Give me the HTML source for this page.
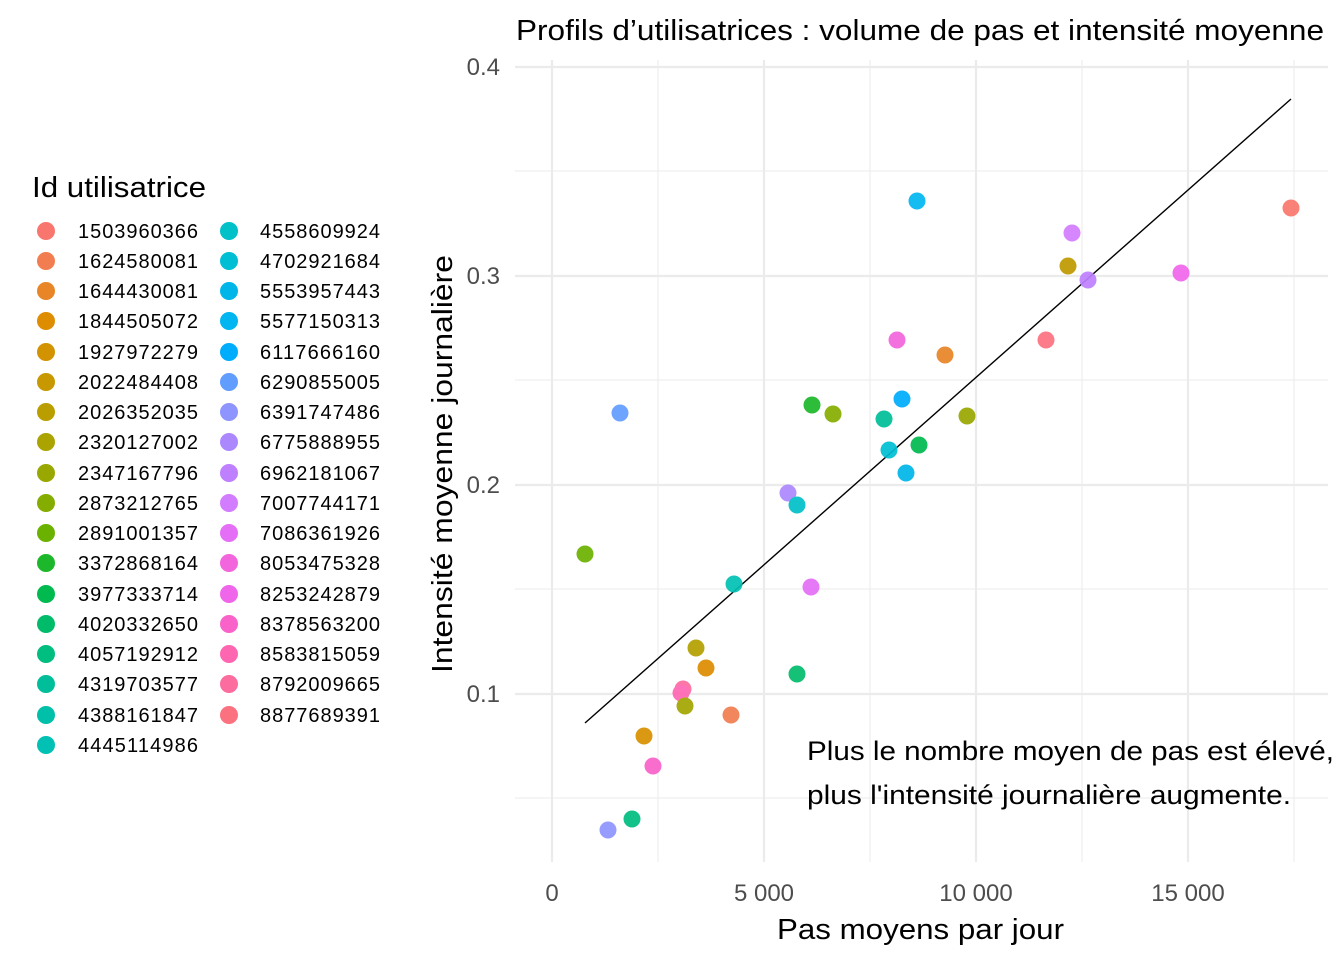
<!DOCTYPE html>
<html><head><meta charset="utf-8"><style>
body{margin:0;background:#fff;}
svg{display:block;font-family:"Liberation Sans",Arial,sans-serif;}
</style></head><body>
<svg width="1344" height="960" xmlns="http://www.w3.org/2000/svg">
<rect width="1344" height="960" fill="#fff"/>
<g stroke="#ebebeb" stroke-width="1">
<line x1="658" y1="60" x2="658" y2="862"/><line x1="870" y1="60" x2="870" y2="862"/><line x1="1082" y1="60" x2="1082" y2="862"/><line x1="1294" y1="60" x2="1294" y2="862"/>
<line x1="515" y1="171" x2="1328" y2="171"/><line x1="515" y1="380" x2="1328" y2="380"/><line x1="515" y1="589" x2="1328" y2="589"/><line x1="515" y1="798" x2="1328" y2="798"/>
</g>
<g stroke="#ebebeb" stroke-width="2.2">
<line x1="552" y1="60" x2="552" y2="862"/><line x1="764" y1="60" x2="764" y2="862"/><line x1="976" y1="60" x2="976" y2="862"/><line x1="1188" y1="60" x2="1188" y2="862"/>
<line x1="515" y1="67" x2="1328" y2="67"/><line x1="515" y1="276" x2="1328" y2="276"/><line x1="515" y1="485" x2="1328" y2="485"/><line x1="515" y1="694" x2="1328" y2="694"/>
</g>
<line x1="585" y1="723" x2="1291" y2="99" stroke="#000" stroke-width="1.4"/>
<g font-size="24" fill="#4d4d4d">
<text x="500" y="75" text-anchor="end">0.4</text>
<text x="500" y="284" text-anchor="end">0.3</text>
<text x="500" y="493" text-anchor="end">0.2</text>
<text x="500" y="702" text-anchor="end">0.1</text>
<text x="552" y="901" text-anchor="middle">0</text>
<text x="764" y="901" text-anchor="middle">5 000</text>
<text x="976" y="901" text-anchor="middle">10 000</text>
<text x="1188" y="901" text-anchor="middle">15 000</text>
</g>
<text x="777" y="939" font-size="29" textLength="287" lengthAdjust="spacingAndGlyphs">Pas moyens par jour</text>
<text transform="translate(452,673) rotate(-90)" font-size="29" textLength="418" lengthAdjust="spacingAndGlyphs">Intensité moyenne journalière</text>
<text x="516" y="40" font-size="29" textLength="808" lengthAdjust="spacingAndGlyphs">Profils d’utilisatrices : volume de pas et intensité moyenne</text>
<text x="807" y="760" font-size="27" textLength="527" lengthAdjust="spacingAndGlyphs">Plus le nombre moyen de pas est élevé,</text>
<text x="807" y="804" font-size="27" textLength="484" lengthAdjust="spacingAndGlyphs">plus l'intensité journalière augmente.</text>
<g opacity="0.92">
<circle cx="1291" cy="208" r="8.5" fill="#F8766D"/>
<circle cx="1181" cy="273" r="8.5" fill="#F066EA"/>
<circle cx="1072" cy="233" r="8.5" fill="#D27CFF"/>
<circle cx="1068" cy="266" r="8.5" fill="#BF9A00"/>
<circle cx="1088" cy="280" r="8.5" fill="#BE80FF"/>
<circle cx="1046" cy="340" r="8.5" fill="#FC717F"/>
<circle cx="945" cy="355" r="8.5" fill="#E88526"/>
<circle cx="967" cy="416" r="8.5" fill="#99A800"/>
<circle cx="917" cy="201" r="8.5" fill="#00B6F1"/>
<circle cx="897" cy="340" r="8.5" fill="#F365DC"/>
<circle cx="902" cy="399" r="8.5" fill="#00ACFC"/>
<circle cx="884" cy="419" r="8.5" fill="#00BE99"/>
<circle cx="889" cy="450" r="8.5" fill="#00BED3"/>
<circle cx="919" cy="445" r="8.5" fill="#00BA50"/>
<circle cx="906" cy="473" r="8.5" fill="#00B6E9"/>
<circle cx="812" cy="405" r="8.5" fill="#1DB72B"/>
<circle cx="833" cy="414" r="8.5" fill="#85AD00"/>
<circle cx="620" cy="413" r="8.5" fill="#619CFF"/>
<circle cx="788" cy="493" r="8.5" fill="#AC88FF"/>
<circle cx="797" cy="505" r="8.5" fill="#00C0C8"/>
<circle cx="585" cy="554" r="8.5" fill="#6BB100"/>
<circle cx="734" cy="584" r="8.5" fill="#00C1B3"/>
<circle cx="811" cy="587" r="8.5" fill="#E46EF6"/>
<circle cx="797" cy="674" r="8.5" fill="#00BC6A"/>
<circle cx="696" cy="648" r="8.5" fill="#B3A000"/>
<circle cx="706" cy="668" r="8.5" fill="#DE8C00"/>
<circle cx="683" cy="689" r="8.5" fill="#FD6C9F"/>
<circle cx="681" cy="693" r="8.5" fill="#FF66B2"/>
<circle cx="685" cy="706" r="8.5" fill="#A3A500"/>
<circle cx="731" cy="715" r="8.5" fill="#F17D50"/>
<circle cx="644" cy="736" r="8.5" fill="#D89000"/>
<circle cx="653" cy="766" r="8.5" fill="#F962C9"/>
<circle cx="632" cy="819" r="8.5" fill="#00BD80"/>
<circle cx="608" cy="830" r="8.5" fill="#8E95FF"/>
</g>
<text x="32" y="197" font-size="29" textLength="174" lengthAdjust="spacingAndGlyphs">Id utilisatrice</text>
<g font-size="20">
<g fill="#000" textLength="120" lengthAdjust="spacingAndGlyphs">
<text x="78" y="238" textLength="120">1503960366</text><text x="78" y="268" textLength="120">1624580081</text><text x="78" y="298" textLength="120">1644430081</text><text x="78" y="328" textLength="120">1844505072</text><text x="78" y="359" textLength="120">1927972279</text><text x="78" y="389" textLength="120">2022484408</text><text x="78" y="419" textLength="120">2026352035</text><text x="78" y="449" textLength="120">2320127002</text><text x="78" y="480" textLength="120">2347167796</text><text x="78" y="510" textLength="120">2873212765</text><text x="78" y="540" textLength="120">2891001357</text><text x="78" y="570" textLength="120">3372868164</text><text x="78" y="601" textLength="120">3977333714</text><text x="78" y="631" textLength="120">4020332650</text><text x="78" y="661" textLength="120">4057192912</text><text x="78" y="691" textLength="120">4319703577</text><text x="78" y="722" textLength="120">4388161847</text><text x="78" y="752" textLength="120">4445114986</text>
<text x="260" y="238" textLength="120">4558609924</text><text x="260" y="268" textLength="120">4702921684</text><text x="260" y="298" textLength="120">5553957443</text><text x="260" y="328" textLength="120">5577150313</text><text x="260" y="359" textLength="120">6117666160</text><text x="260" y="389" textLength="120">6290855005</text><text x="260" y="419" textLength="120">6391747486</text><text x="260" y="449" textLength="120">6775888955</text><text x="260" y="480" textLength="120">6962181067</text><text x="260" y="510" textLength="120">7007744171</text><text x="260" y="540" textLength="120">7086361926</text><text x="260" y="570" textLength="120">8053475328</text><text x="260" y="601" textLength="120">8253242879</text><text x="260" y="631" textLength="120">8378563200</text><text x="260" y="661" textLength="120">8583815059</text><text x="260" y="691" textLength="120">8792009665</text><text x="260" y="722" textLength="120">8877689391</text>
</g>
<g>
<circle cx="46" cy="231" r="9" fill="#F8766D"/><circle cx="46" cy="261" r="9" fill="#F17D50"/><circle cx="46" cy="291" r="9" fill="#E88526"/><circle cx="46" cy="321" r="9" fill="#DE8C00"/><circle cx="46" cy="352" r="9" fill="#D39200"/><circle cx="46" cy="382" r="9" fill="#C79800"/><circle cx="46" cy="412" r="9" fill="#BA9E00"/><circle cx="46" cy="442" r="9" fill="#ABA300"/><circle cx="46" cy="473" r="9" fill="#99A800"/><circle cx="46" cy="503" r="9" fill="#85AD00"/><circle cx="46" cy="533" r="9" fill="#6BB100"/><circle cx="46" cy="563" r="9" fill="#1DB72B"/><circle cx="46" cy="594" r="9" fill="#00BA50"/><circle cx="46" cy="624" r="9" fill="#00BC6A"/><circle cx="46" cy="654" r="9" fill="#00BD80"/><circle cx="46" cy="684" r="9" fill="#00BE99"/><circle cx="46" cy="715" r="9" fill="#00C0AA"/><circle cx="46" cy="745" r="9" fill="#00C1B3"/>
<circle cx="229" cy="231" r="9" fill="#00C0C8"/><circle cx="229" cy="261" r="9" fill="#00BED3"/><circle cx="229" cy="291" r="9" fill="#00B6E9"/><circle cx="229" cy="321" r="9" fill="#00B6F1"/><circle cx="229" cy="352" r="9" fill="#00ACFC"/><circle cx="229" cy="382" r="9" fill="#619CFF"/><circle cx="229" cy="412" r="9" fill="#8E95FF"/><circle cx="229" cy="442" r="9" fill="#AC88FF"/><circle cx="229" cy="473" r="9" fill="#BE80FF"/><circle cx="229" cy="503" r="9" fill="#D27CFF"/><circle cx="229" cy="533" r="9" fill="#E46EF6"/><circle cx="229" cy="563" r="9" fill="#F365DC"/><circle cx="229" cy="594" r="9" fill="#F066EA"/><circle cx="229" cy="624" r="9" fill="#F962C9"/><circle cx="229" cy="654" r="9" fill="#FF66B2"/><circle cx="229" cy="684" r="9" fill="#FD6C9F"/><circle cx="229" cy="715" r="9" fill="#FC717F"/>
</g>
</g>
</svg>
</body></html>
